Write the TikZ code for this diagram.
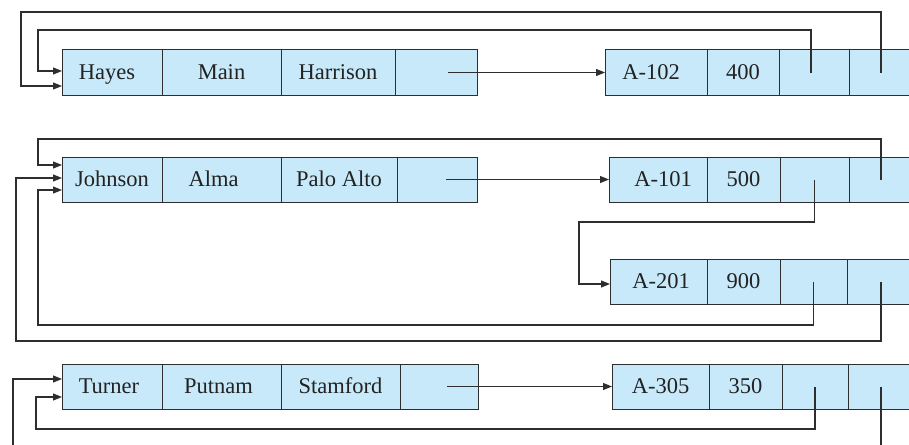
\documentclass[tikz,border=0pt]{standalone}
\usepackage{fontspec}
\setmainfont{Liberation Serif}
\usetikzlibrary{arrows.meta}
\definecolor{cellfill}{HTML}{C8E9F9}
\definecolor{linec}{HTML}{2E2E2E}
\definecolor{textc}{HTML}{222222}
\begin{document}
\begin{tikzpicture}[x=1pt,y=-1pt,
  cell/.style={draw=linec, fill=cellfill, line width=1pt, minimum height=45pt,
    inner sep=0pt, outer sep=0pt, text height=17pt, text depth=3pt,
    text=textc, font=\fontsize{22.5}{26}\selectfont},
  link/.style={draw=linec, line width=1.1pt},
  ptr/.style={link, -{Triangle[length=9pt,width=7pt]}}]
\clip (0,0) rectangle (909,444);
\fill[white] (0,0) rectangle (909,444);

% depositor records
\node[cell, minimum width=100pt] (c11) at (112,72.5) {Hayes\hspace*{10pt}};
\node[cell, minimum width=119pt] (c12) at (221.5,72.5) {Main};
\node[cell, minimum width=114pt] (c13) at (338,72.5) {Harrison};
\node[cell, minimum width=82pt]  (c14) at (436,72.5) {};

\node[cell, minimum width=100pt] (c21) at (112,179.5) {Johnson};
\node[cell, minimum width=119pt] (c22) at (221.5,179.5) {\hspace*{0pt}Alma\hspace*{16pt}};
\node[cell, minimum width=116pt] (c23) at (339,179.5) {Palo Alto};
\node[cell, minimum width=80pt]  (c24) at (437,179.5) {};

\node[cell, minimum width=100pt] (c31) at (112,386.5) {Turner\hspace*{6pt}};
\node[cell, minimum width=119pt] (c32) at (221.5,386.5) {Putnam\hspace*{6pt}};
\node[cell, minimum width=119pt] (c33) at (340.5,386.5) {Stamford};
\node[cell, minimum width=78pt]  (c34) at (439,386.5) {};

% account records
\node[cell, minimum width=102pt] (d11) at (656,72.5) {A-102\hspace*{10pt}};
\node[cell, minimum width=72pt]  (d12) at (743,72.5) {400};
\node[cell, minimum width=70pt]  (d13) at (814,72.5) {};
\node[cell, minimum width=64pt]  (d14) at (881,72.5) {};

\node[cell, minimum width=98pt]  (d21) at (658,179.5) {\hspace*{10pt}A-101};
\node[cell, minimum width=73pt]  (d22) at (743.5,179.5) {500};
\node[cell, minimum width=69pt]  (d23) at (814.5,179.5) {};
\node[cell, minimum width=64pt]  (d24) at (881,179.5) {};

\node[cell, minimum width=97pt]  (e1) at (658.5,281.5) {\hspace*{5pt}A-201};
\node[cell, minimum width=73pt]  (e2) at (743.5,281.5) {900};
\node[cell, minimum width=67pt]  (e3) at (813.5,281.5) {};
\node[cell, minimum width=68pt]  (e4) at (881,281.5) {};

\node[cell, minimum width=97pt]  (f1) at (660.5,386.5) {A-305\hspace*{0pt}};
\node[cell, minimum width=73pt]  (f2) at (745.5,386.5) {350};
\node[cell, minimum width=66pt]  (f3) at (815,386.5) {};
\node[cell, minimum width=66pt]  (f4) at (881,386.5) {};

% continuations beyond the lower edge
\coordinate (inlow) at (13,450);
\coordinate (outlow) at (881,450);

% record pointers
\draw[ptr] ([xshift=12pt]c14.center) -- (d11.west);
\draw[ptr] ([xshift=9pt]c24.center) -- (d21.west);
\draw[ptr] ([xshift=8pt]c34.center) -- (f1.west);

% first group
\draw[ptr] (d14.center) |- (21,12) |- ([yshift=-13.5pt]c11.west);
\draw[ptr] ([xshift=-3pt]d13.center) |- (38,30) |- ([yshift=1.5pt]c11.west);

% second group
\draw[ptr] (d24.center) |- (38,139) |- ([yshift=14.5pt]c21.west);
\draw[ptr] (d23.center) |- (579,222) |- ([yshift=-2.5pt]e1.west);
\draw[ptr] (e3.center) |- (38,325) |- ([yshift=-10.5pt]c21.west);
\draw[ptr] (e4.center) |- (16,341) |- ([yshift=1.5pt]c21.west);

% third group
\draw[ptr] (f3.center) |- (36,429) |- ([yshift=-10.5pt]c31.west);
\draw[link] (f4.center) -- (outlow);
\draw[ptr] (inlow) |- ([yshift=7.5pt]c31.west);
\end{tikzpicture}
\end{document}
